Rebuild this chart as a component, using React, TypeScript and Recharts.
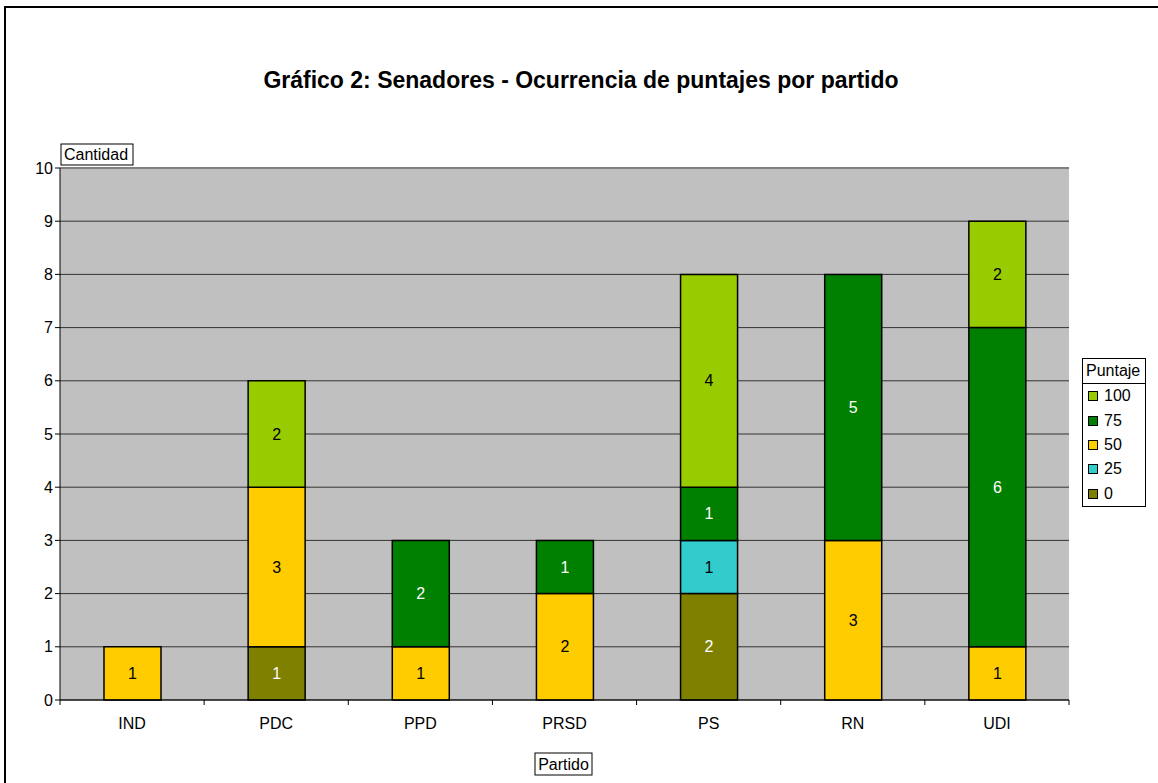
import React from 'react';
import { BarChart, Bar, XAxis, YAxis, CartesianGrid, Legend, LabelList, ReferenceLine } from 'recharts';

const partidos = ['IND', 'PDC', 'PPD', 'PRSD', 'PS', 'RN', 'UDI'];
const p0 = [0, 1, 0, 0, 2, 0, 0];
const p25 = [0, 0, 0, 0, 1, 0, 0];
const p50 = [1, 3, 1, 2, 0, 3, 1];
const p75 = [0, 0, 2, 1, 1, 5, 6];
const p100 = [0, 2, 0, 0, 4, 0, 2];
const yTicks = [0, 1, 2, 3, 4, 5, 6, 7, 8, 9, 10];

const series = [
  { key: 'p0', name: '0', color: '#808000', text: '#ffffff' },
  { key: 'p25', name: '25', color: '#33CCCC', text: '#000000' },
  { key: 'p50', name: '50', color: '#FFCC00', text: '#000000' },
  { key: 'p75', name: '75', color: '#008000', text: '#ffffff' },
  { key: 'p100', name: '100', color: '#99CC00', text: '#000000' },
];

const data = partidos.map((partido, i) => ({
  partido,
  p0: p0[i],
  p25: p25[i],
  p50: p50[i],
  p75: p75[i],
  p100: p100[i],
}));

const FONT = '"Liberation Sans", Arial, sans-serif';
const FS = 16;

function BoxLabel({ viewBox, text, mode, w }: any) {
  if (mode === 'y') {
    const x = viewBox.x + viewBox.width + 1;
    const y = viewBox.y - 24;
    return (
      <g>
        <rect x={x} y={y} width={w} height={21} fill="#fff" stroke="#000" strokeWidth={1} />
        <text x={x + 3} y={y + 16} fontSize={FS} fontFamily={FONT} fill="#000">{text}</text>
      </g>
    );
  }
  const cx = viewBox.x + viewBox.width / 2 - 1;
  const y = viewBox.y + 53;
  return (
    <g>
      <rect x={cx - w / 2} y={y} width={w} height={22} fill="#fff" stroke="#000" strokeWidth={1} />
      <text x={cx} y={y + 17} fontSize={FS} fontFamily={FONT} fill="#000" textAnchor="middle">{text}</text>
    </g>
  );
}

// Excel style: tick marks sit between the categories, not under them
function PartidoTick(props: any) {
  const { x, y, payload, index, width, visibleTicksCount, x1, y1 } = props;
  const band = width / visibleTicksCount;
  const lx = (x1 ?? x) - band / 2;
  const ly = y1 ?? y - 17;
  return (
    <g>
      <line x1={lx} y1={ly} x2={lx} y2={ly + 5} stroke="#000" />
      {index === visibleTicksCount - 1 && (
        <line x1={lx + band} y1={ly} x2={lx + band} y2={ly + 5} stroke="#000" />
      )}
      <text x={x} y={y} dy={12} fontSize={FS} fontFamily={FONT} fill="#000" textAnchor="middle">
        {payload.value}
      </text>
    </g>
  );
}

function LegendBox() {
  const items = [...series].reverse();
  return (
    <div style={{ border: '1px solid #000', background: '#fff', width: 62, fontFamily: FONT, fontSize: FS, boxSizing: 'content-box' }}>
      <div style={{ borderBottom: '1px solid #000', padding: '0 3px', height: 24, lineHeight: '24px' }}>Puntaje</div>
      {items.map((it) => (
        <div key={it.key} style={{ display: 'flex', alignItems: 'center', height: 24.4, paddingLeft: 5 }}>
          <span style={{ display: 'inline-block', width: 8, height: 8, background: it.color, border: '1px solid #000', marginRight: 6 }} />
          <span>{it.name}</span>
        </div>
      ))}
    </div>
  );
}

export default function App() {
  return (
    <div style={{ position: 'absolute', left: 0, top: 0, width: 1158, height: 783, background: '#fff', overflow: 'hidden', fontFamily: FONT }}>
      <div style={{ position: 'absolute', left: 4, top: 6, width: 1160, height: 790, border: '2px solid #000', boxSizing: 'border-box' }} />
      <div style={{ position: 'absolute', left: 0, width: 1162, top: 67, textAlign: 'center', fontSize: 23, fontWeight: 'bold' }}>
        Gráfico 2: Senadores - Ocurrencia de puntajes por partido
      </div>
      <BarChart
        width={1158}
        height={783}
        data={data}
        margin={{ top: 168, right: 25, bottom: 53, left: 20 }}
        barCategoryGap={0}
        style={{ position: 'absolute', left: 0, top: 0 }}
      >
        <CartesianGrid vertical={false} fill="#C0C0C0" stroke="#333333" strokeOpacity={1} />
        <XAxis
          dataKey="partido"
          axisLine={{ stroke: '#000', strokeWidth: 1 }}
          tickLine={false}
          tick={<PartidoTick />}
          tickSize={5}
          tickMargin={12}
          height={30}
          label={<BoxLabel text="Partido" mode="x" w={57} />}
        />
        <YAxis
          domain={[0, 10]}
          ticks={yTicks}
          interval={0}
          width={40}
          axisLine={{ stroke: '#000' }}
          tickLine={{ stroke: '#000' }}
          tickSize={5}
          tick={{ fill: '#000', fontSize: FS, fontFamily: FONT }}
          label={<BoxLabel text="Cantidad" mode="y" w={72} />}
        />
        <YAxis yAxisId="right" orientation="right" width={0} tick={false} tickLine={false} axisLine={{ stroke: '#808080', strokeWidth: 2 }} domain={[0, 10]} />
        <ReferenceLine y={10} stroke="#808080" strokeWidth={2} />
        <Legend
          layout="vertical"
          verticalAlign="top"
          align="right"
          content={<LegendBox />}
          wrapperStyle={{ left: 1082, top: 358, width: 64 }}
        />
        {series.map((s) => (
          <Bar
            key={s.key}
            dataKey={s.key}
            name={s.name}
            stackId="a"
            fill={s.color}
            stroke="#000"
            strokeWidth={1.5}
            barSize={57}
            isAnimationActive={false}
          >
            <LabelList
              dataKey={s.key}
              position="center"
              fill={s.text}
              fontSize={FS}
              fontFamily={FONT}
              formatter={(v: any) => (v ? v : '')}
            />
          </Bar>
        ))}
      </BarChart>
    </div>
  );
}
